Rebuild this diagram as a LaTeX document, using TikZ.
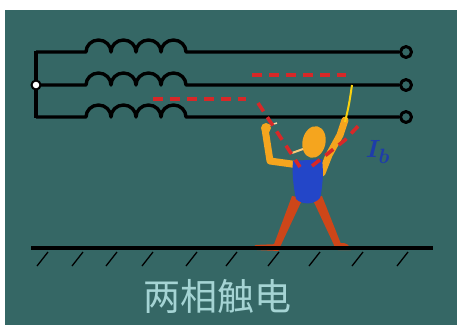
\documentclass[tikz,border=0pt]{standalone}
\usepackage{fontspec}
\newfontfamily\cjk{Noto Sans CJK SC}
\definecolor{board}{RGB}{53,103,101}
\definecolor{flowred}{RGB}{215,40,40}
\definecolor{skin}{RGB}{245,165,30}
\definecolor{limb}{RGB}{205,70,25}
\definecolor{vest}{RGB}{35,70,200}
\definecolor{caption}{RGB}{165,212,212}
\definecolor{ibblue}{RGB}{30,60,170}

\begin{document}
\begin{tikzpicture}
[ x=1pt, y=-1pt, line join=round
, point/.style={coordinate}
, wire/.style={draw=black, line width=3.4pt}
, terminal/.style={circle, draw=black, line width=3pt, fill=board, inner sep=0pt, minimum size=11pt}
, junction/.style={circle, draw=black, line width=2pt, fill=white, inner sep=0pt, minimum size=9pt}
, flow/.style={draw=flowred, line width=3.6pt, dash pattern=on 10pt off 7pt}
, hump/.style={start angle=180, end angle=360, x radius=12.5, y radius=12}
, arm/.style={draw=skin, line width=7pt, line cap=round}
, hatch/.style={draw=black, line width=1.3pt}
]
\useasboundingbox (0,0) rectangle (457,325);
\fill[board] (5,10) rectangle (457,325);

% Windings and lines:
\node (bustop) [point] at (36,50.5) {};
\node (busbot) [point] at (36,118) {};
\draw[wire] (bustop) -- (busbot);
\foreach \p/\y in {a/52, b/85, c/117} {
  \node (in\p) [point] at (36,\y) {};
  \node (coil\p) [point] at (86,\y) {};
  \node (out\p) [terminal] at (406,\y) {};
  \draw[wire] (in\p) -- (coil\p) arc[hump] arc[hump] arc[hump] arc[hump] -- (out\p);
}
\node (star) [junction] at (36,85) {};

% Person:
\fill[limb] (292,196) -- (303,198) -- (280,247) -- (273,247) -- cycle;
\fill[limb, rounded corners=2pt] (254,245) -- (279,244) -- (280,251) -- (255,250) -- cycle;
\fill[limb] (312,198) -- (322,196) -- (341,244) -- (334,245) -- cycle;
\fill[limb, rounded corners=2pt] (333,243) -- (346,243) -- (353,250) -- (336,250) -- cycle;
\draw[arm] (299,165) -- (270,161) -- (265,129);
\fill[skin] (266,128) circle[radius=5];
\draw[skin!40!white, line width=1.5pt] (270,125) -- (277,123);
\draw[arm] (322,173) -- (329,155) -- (340,135) -- (345,120);
\draw[skin!50!yellow, line width=2pt] (345,122) .. controls (349,105) .. (352,85);
\fill[vest] (293,161) -- (322,159) .. controls (324,175) and (322,190) .. (320,198)
  .. controls (314,205) and (302,205) .. (296,199) .. controls (293,185) and (292,172) .. cycle;
\fill[skin, rotate around={-12:(314,142)}] (314,142) ellipse[x radius=11.5, y radius=16];
\draw[skin!60!white, line width=2pt] (303,149) -- (292,153);

% Current paths:
\draw[flow] (252,75) -- (346,75);
\draw[flow] (153,99) -- (246,99);
\draw[flow] (258,103) -- (300,167);
\draw[flow] (312,166) -- (345,140) -- (361,123);
\node (ib) [text=ibblue, font=\boldmath\fontsize{29}{29}\selectfont] at (378,152) {$I_b$};

% Ground:
\node (gl) [point] at (31,248) {};
\node (gr) [point] at (433,248) {};
\draw[wire] (gl) -- (gr);
\foreach \x in {48,83,117,153,197,237,279,320,363,408}
  \draw[hatch] (\x,252) -- ++(-11,14);

\node (title) [text=caption, font=\cjk\fontsize{37}{37}\selectfont] at (217,296) {两相触电};
\end{tikzpicture}
\end{document}
